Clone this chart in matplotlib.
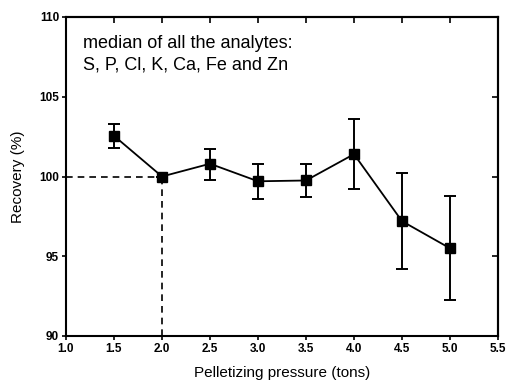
import matplotlib
matplotlib.use("Agg")
import matplotlib.pyplot as plt
import numpy as np

# data
pressure = [1.5, 2.0, 2.5, 3.0, 3.5, 4.0, 4.5, 5.0]
recovery = [102.55, 100.0, 100.8, 99.7, 99.75, 101.4, 97.2, 95.5]
err_low = [0.75, 0.0, 1.0, 1.1, 1.05, 2.2, 3.0, 3.25]
err_high = [0.75, 0.0, 0.9, 1.1, 1.05, 2.2, 3.0, 3.3]

plt.rcParams['font.family'] = ['Liberation Sans', 'DejaVu Sans']

fig = plt.figure(figsize=(5.08, 3.83), dpi=100)
ax = fig.add_axes([66 / 508, 1 - 336 / 383, (498 - 66) / 508, (336 - 17) / 383])

ax.errorbar(pressure, recovery, yerr=[err_low, err_high], color='black', lw=1.3,
            marker='s', markersize=6.8, capsize=4, elinewidth=1.4, capthick=1.4)

# reference point guide lines
ax.plot([1.0, 2.0], [100, 100], ls=(0, (4, 3)), color='black', lw=1.2)
ax.plot([2.0, 2.0], [90, 100], ls=(0, (4, 3)), color='black', lw=1.2)

ax.set_xlim(1.0, 5.5)
ax.set_ylim(90, 110)
ax.set_xticks(np.arange(1.0, 5.51, 0.5))
ax.set_yticks([90, 95, 100, 105, 110])
ax.set_xticklabels([f'{v:.1f}' for v in np.arange(1.0, 5.51, 0.5)], fontweight='bold', fontsize=8.5)
ax.set_yticklabels(['90', '95', '100', '105', '110'], fontweight='bold', fontsize=8.5)
ax.tick_params(direction='out', length=3, width=1.2, pad=2)

# inward ticks on top and right
secx = ax.secondary_xaxis('top')
secx.set_xticks(np.arange(1.5, 5.01, 0.5))
secx.tick_params(direction='in', length=4, width=1.2, labeltop=False)
secy = ax.secondary_yaxis('right')
secy.set_yticks([95, 100, 105])
secy.tick_params(direction='in', length=4, width=1.2, labelright=False)

for s in ax.spines.values():
    s.set_linewidth(1.5)
secx.spines['top'].set_linewidth(1.5)
secy.spines['right'].set_linewidth(1.5)

ax.set_xlabel('Pelletizing pressure (tons)', fontsize=11, labelpad=8)
ax.set_ylabel('Recovery (%)', fontsize=11, labelpad=10)

ax.text(0.04, 0.945, 'median of all the analytes:\nS, P, Cl, K, Ca, Fe and Zn',
        transform=ax.transAxes, fontsize=13, va='top', ha='left', linespacing=1.35)

fig.savefig('out.png', dpi=100)
